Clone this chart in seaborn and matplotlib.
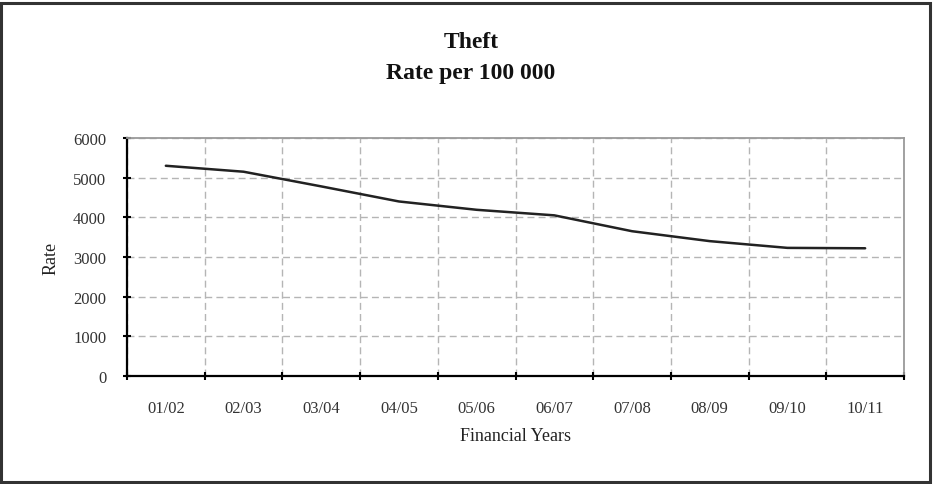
import matplotlib
matplotlib.use("Agg")
import matplotlib.pyplot as plt
from matplotlib.patches import Rectangle
from matplotlib.ticker import FixedLocator, NullFormatter
import numpy as np
import pandas as pd
import seaborn as sns

# Theft rate per 100 000 population by financial year
years = ["01/02", "02/03", "03/04", "04/05", "05/06",
         "06/07", "07/08", "08/09", "09/10", "10/11"]
rate = [5300, 5150, 4780, 4400, 4190, 4050, 3650, 3400, 3230, 3220]
y_ticks = [0, 1000, 2000, 3000, 4000, 5000, 6000]

sns.set_theme(style="white")
plt.rcParams["font.family"] = ["Liberation Serif", "DejaVu Serif"]

df = pd.DataFrame({"year": years, "rate": rate})
df["pos"] = np.arange(len(years))

fig = plt.figure(figsize=(9.37, 4.85), dpi=100)
ax = fig.add_axes([127 / 937, 1 - 377 / 485, (904 - 127) / 937, (377 - 139) / 485])

sns.lineplot(data=df, x="pos", y="rate", ax=ax, color="#222222", linewidth=1.8)

n = len(years)
ax.set_xlim(-0.5, n - 0.5)
ax.set_ylim(0, 6000)

# category boundaries carry the ticks and vertical grid, labels sit in between
ax.xaxis.set_major_locator(FixedLocator(np.arange(-0.5, n, 1.0)))
ax.xaxis.set_major_formatter(NullFormatter())
ax.set_xticks(df["pos"].tolist(), minor=True)
ax.set_xticklabels(years, minor=True)
ax.tick_params(axis="x", which="major", direction="inout", length=6, width=1.5,
               color="black", bottom=True)
ax.tick_params(axis="x", which="minor", length=0, pad=17, labelsize=12,
               labelcolor="#333333", bottom=True)

ax.set_yticks(y_ticks)
ax.set_yticklabels([str(v) for v in y_ticks])
ax.tick_params(axis="y", which="major", direction="inout", length=6, width=1.5,
               color="black", left=True, pad=12, labelsize=12, labelcolor="#333333")

ax.grid(True, which="major", axis="both", color="#b5b5b5", linestyle=(0, (5, 3)),
        linewidth=1.0)
ax.set_axisbelow(True)

for side in ("left", "bottom"):
    ax.spines[side].set_color("black")
    ax.spines[side].set_linewidth(1.6)
for side in ("top", "right"):
    ax.spines[side].set_color("#9a9a9a")
    ax.spines[side].set_linewidth(1.3)

ax.set_xlabel("Financial Years", fontsize=13, color="#222222", labelpad=8)
ax.set_ylabel("Rate", fontsize=13, color="#222222", labelpad=10)

fig.text(471 / 937, 1 - 43 / 485, "Theft", ha="center", va="center",
         fontsize=17, fontweight="bold", color="#111111")
fig.text(471 / 937, 1 - 73 / 485, "Rate per 100 000", ha="center", va="center",
         fontsize=17, fontweight="bold", color="#111111")

# outer frame around the whole chart
fig.patches.append(Rectangle((1.5 / 937, 1 - 483 / 485), 929 / 937, 479 / 485,
                             transform=fig.transFigure, fill=False,
                             edgecolor="#333333", linewidth=2.2))

fig.savefig("out.png", dpi=100, facecolor="white")
